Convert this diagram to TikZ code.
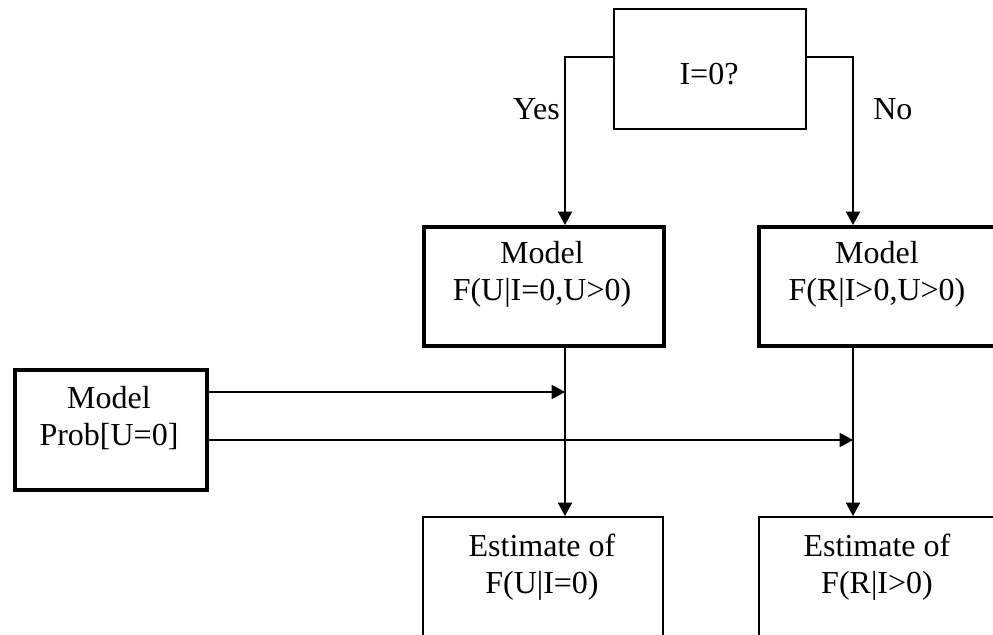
\documentclass[tikz,border=0pt]{standalone}
\usepackage{fontspec}
\setmainfont{Liberation Serif}
\usetikzlibrary{arrows.meta}
\begin{document}
\begin{tikzpicture}[x=0.75pt,y=-0.75pt,
  thinbox/.style={draw, line width=1.3pt, inner sep=0pt, anchor=north west},
  thickbox/.style={draw, line width=3pt, inner sep=0pt, anchor=north west},
  txt/.style={font=\fontsize{24}{27.6}\selectfont, anchor=base, inner sep=0pt},
  conn/.style={line width=1.3pt, -{Triangle[length=10pt,width=10.5pt]}}]
\clip (0,0) rectangle (993,635);
% boxes
\node[thinbox, minimum width=144pt, minimum height=90pt] (top) at (613,8) {};
\node[thickbox, minimum width=180pt, minimum height=89.25pt] (ml) at (422,225) {};
\node[thickbox, minimum width=180pt, minimum height=89.25pt] (mr) at (757,225) {};
\node[thickbox, minimum width=144pt, minimum height=90pt] (lb) at (13,368) {};
\node[thinbox, minimum width=180pt, minimum height=150pt] (bl) at (422,516) {};
\node[thinbox, minimum width=180pt, minimum height=150pt] (br) at (758,516) {};
% texts
\node[txt] (ttop) at (709,85) {I=0?};
\node[txt] (tml1) at (542,263) {Model};
\node[txt] (tml2) at (542,300) {F(U|I=0,U>0)};
\node[txt] (tmr1) at (877,263) {Model};
\node[txt] (tmr2) at (877,300) {F(R|I>0,U>0)};
\node[txt] (tlb1) at (109,408) {Model};
\node[txt] (tlb2) at (109,445) {Prob[U=0]};
\node[txt] (tbl1) at (542,556) {Estimate of};
\node[txt] (tbl2) at (542,593) {F(U|I=0)};
\node[txt] (tbr1) at (877,556) {Estimate of};
\node[txt] (tbr2) at (877,593) {F(R|I>0)};
\node[txt, anchor=base east] (yes) at (560,119) {Yes};
\node[txt, anchor=base west] (no) at (873,119) {No};
% connector guides
\coordinate (cl) at (565,57);
\coordinate (cr) at (853,57);
\coordinate (j1) at (565,392);
\coordinate (j2) at (853,440);
% connectors
\draw[conn] (top.west |- cl) -| (ml.north -| cl);
\draw[conn] (top.east |- cr) -| (mr.north -| cr);
\draw[conn] (ml.south -| cl) -- (bl.north -| cl);
\draw[conn] (mr.south -| cr) -- (br.north -| cr);
\draw[conn] (lb.east |- j1) -- (j1);
\draw[conn] (lb.east |- j2) -- (j2);
\end{tikzpicture}
\end{document}
